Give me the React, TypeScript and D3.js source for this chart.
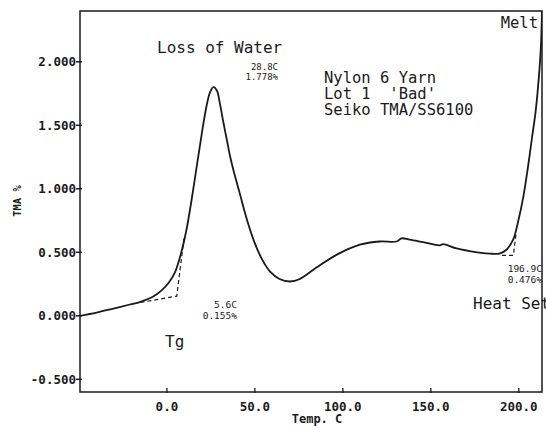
import { useEffect, useRef } from "react";
import * as d3 from "d3";

// TMA trace: temperature (C) and TMA (%)
const temps = [
  -49.4, -40, -31, -21.6, -15, -8, -3, 1, 4.5, 8, 11, 14, 17, 20, 22.5, 24.5, 26.5, 28.5, 30, 32, 34,
  36, 38.5, 41.5, 44, 47, 50, 52.8, 55.5, 58.5, 64, 70, 75.6, 85, 96.4, 109.7, 121, 130.5, 133.3, 138, 145.6,
  155, 157, 164.6, 172, 183.5, 189, 193, 196.8, 199.6, 202.5, 205, 207.5, 209.5, 211, 212.5, 213.2,
];
const tma = [
  0.0, 0.025, 0.055, 0.087, 0.11, 0.15, 0.2, 0.26, 0.34, 0.49, 0.67, 0.91, 1.18, 1.45, 1.65, 1.76, 1.8, 1.77, 1.68, 1.53, 1.39,
  1.25, 1.11, 0.96, 0.83, 0.69, 0.57, 0.48, 0.41, 0.35, 0.29, 0.27, 0.29, 0.38, 0.48, 0.56, 0.585, 0.585, 0.61, 0.6, 0.58,
  0.555, 0.565, 0.53, 0.51, 0.49, 0.49, 0.52, 0.6, 0.74, 0.93, 1.15, 1.4, 1.6, 1.81, 2.1, 2.4,
];

// onset construction lines
const tgTangent: [number, number][] = [[-15, 0.105], [5.6, 0.155], [9.8, 0.62]];
const heatTangent: [number, number][] = [[190.5, 0.476], [196.9, 0.476], [198.6, 0.66]];

const xTicks = [0, 50, 100, 150, 200];
const yTicks = [-0.5, 0, 0.5, 1.0, 1.5, 2.0];

const notes = [
  { text: "Loss of Water", x: 157, y: 53, size: 16, anchor: "start" },
  { text: "Nylon 6 Yarn", x: 324, y: 83, size: 15.5, anchor: "start" },
  { text: "Lot 1  'Bad'", x: 324, y: 99, size: 15.5, anchor: "start" },
  { text: "Seiko TMA/SS6100", x: 324, y: 115, size: 15.5, anchor: "start" },
  { text: "Melt", x: 538, y: 28, size: 15.5, anchor: "end" },
  { text: "Heat Set", x: 473, y: 309, size: 16, anchor: "start" },
  { text: "Tg", x: 165, y: 347, size: 16, anchor: "start" },
  { text: "28.8C", x: 278, y: 70, size: 9, anchor: "end" },
  { text: "1.778%", x: 278, y: 80, size: 9, anchor: "end" },
  { text: "5.6C", x: 237, y: 308, size: 9.5, anchor: "end" },
  { text: "0.155%", x: 237, y: 319, size: 9.5, anchor: "end" },
  { text: "196.9C", x: 542, y: 272, size: 9.5, anchor: "end" },
  { text: "0.476%", x: 542, y: 283, size: 9.5, anchor: "end" },
];

export default function App() {
  const ref = useRef<SVGSVGElement>(null);

  useEffect(() => {
    const width = 546;
    const height = 428;
    const svg = d3.select(ref.current);
    svg.selectAll("*").remove();
    svg.attr("viewBox", `0 0 ${width} ${height}`);

    const font = "'DejaVu Sans Mono', monospace";
    const ink = "#1a1a1a";

    const x = d3.scaleLinear().domain([-49.4, 213.2]).range([80, 542]);
    const y = d3.scaleLinear().domain([-0.6, 2.4]).range([392, 11]);

    svg.append("rect").attr("width", width).attr("height", height).attr("fill", "#fff");

    const defs = svg.append("defs");
    defs.append("clipPath").attr("id", "plot").append("rect")
      .attr("x", 80).attr("y", 11).attr("width", 462).attr("height", 381);

    // frame
    svg.append("rect")
      .attr("x", 80).attr("y", 11).attr("width", 462).attr("height", 381)
      .attr("fill", "none").attr("stroke", ink).attr("stroke-width", 1.5);

    // y ticks
    svg.selectAll("line.ytick").data(yTicks).join("line")
      .attr("class", "ytick")
      .attr("x1", 76).attr("x2", 82)
      .attr("y1", (d) => y(d)).attr("y2", (d) => y(d))
      .attr("stroke", ink).attr("stroke-width", 1.5);
    svg.selectAll("text.ylab").data(yTicks).join("text")
      .attr("class", "ylab")
      .attr("x", 76).attr("y", (d) => y(d) + 4.5)
      .attr("text-anchor", "end")
      .attr("font-family", font).attr("font-size", 12.5).attr("font-weight", 600)
      .attr("fill", ink)
      .text((d) => d3.format(".3f")(d).replace("−", "-"));

    // x ticks
    svg.selectAll("line.xtick").data(xTicks).join("line")
      .attr("class", "xtick")
      .attr("x1", (d) => x(d)).attr("x2", (d) => x(d))
      .attr("y1", 388).attr("y2", 393)
      .attr("stroke", ink).attr("stroke-width", 1.3);
    svg.selectAll("text.xlab").data(xTicks).join("text")
      .attr("class", "xlab")
      .attr("x", (d) => x(d)).attr("y", 411)
      .attr("text-anchor", "middle")
      .attr("font-family", font).attr("font-size", 12.5).attr("font-weight", 600)
      .attr("fill", ink)
      .text((d) => d3.format(".1f")(d));

    svg.append("text")
      .attr("x", 317).attr("y", 423)
      .attr("text-anchor", "middle")
      .attr("font-family", font).attr("font-size", 12).attr("font-weight", 600)
      .attr("fill", ink)
      .text("Temp. C");

    svg.append("text")
      .attr("transform", "translate(21,201) rotate(-90)")
      .attr("text-anchor", "middle")
      .attr("font-family", font).attr("font-size", 10.5).attr("font-weight", 700)
      .attr("fill", ink)
      .text("TMA %");

    const plot = svg.append("g").attr("clip-path", "url(#plot)");

    const line = d3.line<[number, number]>()
      .x((d) => x(d[0]))
      .y((d) => y(d[1]))
      .curve(d3.curveCatmullRom.alpha(0.5));

    const points: [number, number][] = temps.map((t, i) => [t, tma[i]]);
    plot.append("path")
      .attr("d", line(points))
      .attr("fill", "none").attr("stroke", ink).attr("stroke-width", 1.8);

    const straight = d3.line<[number, number]>().x((d) => x(d[0])).y((d) => y(d[1]));
    [tgTangent, heatTangent].forEach((seg) => {
      plot.append("path")
        .attr("d", straight(seg))
        .attr("fill", "none").attr("stroke", ink).attr("stroke-width", 1.2)
        .attr("stroke-dasharray", "4,3");
    });

    svg.selectAll("text.note").data(notes).join("text")
      .attr("class", "note")
      .attr("x", (d) => d.x).attr("y", (d) => d.y)
      .attr("text-anchor", (d) => d.anchor)
      .attr("font-family", font).attr("font-size", (d) => d.size)
      .attr("fill", ink)
      .style("white-space", "pre")
      .text((d) => d.text);
  }, []);

  return <svg ref={ref} width={546} height={428} style={{ position: "absolute", left: 0, top: 0 }} />;
}
